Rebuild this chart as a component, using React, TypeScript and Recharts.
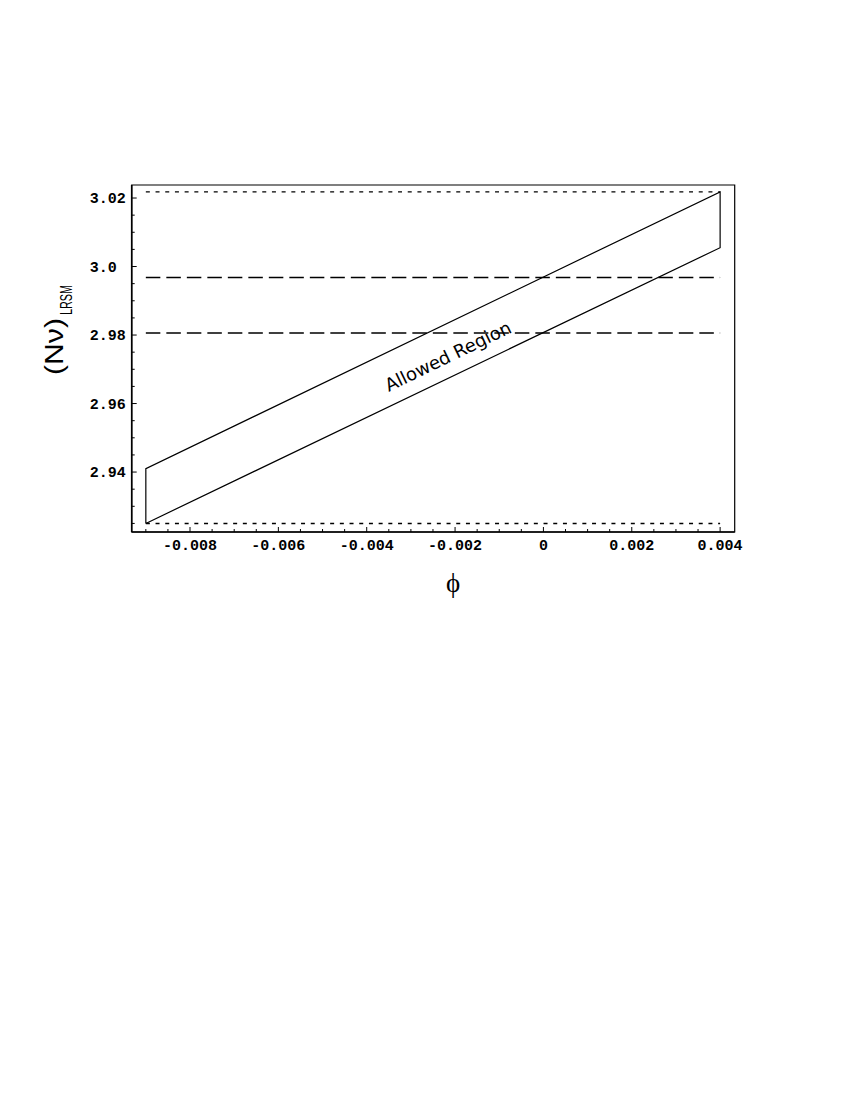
import React from "react";
import {
  ComposedChart,
  Line,
  XAxis,
  YAxis,
  ReferenceLine,
  ReferenceArea,
  ReferenceDot,
} from "recharts";

// ---- data ----
const phiRange = [-0.009, 0.004];
const upperEdge = [2.941, 3.0218];
const lowerEdge = [2.925, 3.0055];
const dashedLevels = [2.9806, 2.9968];
const dottedLevels = [2.925, 3.0218];

const xDomain = [-0.00932, 0.00433];
const yDomain = [2.9225, 3.0238];

const xMajorTicks = [-0.008, -0.006, -0.004, -0.002, 0, 0.002, 0.004];
const xTickLabels = ["-0.008", "-0.006", "-0.004", "-0.002", "0", "0.002", "0.004"];
const yMajorTicks = [2.94, 2.96, 2.98, 3.0, 3.02];
const yTickLabels = ["2.94", "2.96", "2.98", "3.0", "3.02"];

const labelPoint = { x: -0.00216, y: 2.9738 };
const regionLabel = "Allowed Region";

const xMinorTicks: number[] = [];
for (let k = 0; k <= 26; k++) xMinorTicks.push(Math.round((-0.009 + k * 0.0005) * 1e6) / 1e6);
const yMinorTicks: number[] = [];
for (let k = 0; k <= 19; k++) yMinorTicks.push(Math.round((2.925 + k * 0.005) * 1e5) / 1e5);

const regionData = [
  { x: phiRange[0], y: lowerEdge[0] },
  { x: phiRange[0], y: upperEdge[0] },
  { x: phiRange[1], y: upperEdge[1] },
  { x: phiRange[1], y: lowerEdge[1] },
  { x: phiRange[0], y: lowerEdge[0] },
];

const tickFont = {
  fontFamily: "'Liberation Mono', 'DejaVu Sans Mono', monospace",
  fontWeight: 700,
  fontSize: 15,
  fill: "#000",
};

const XTick = (props: any) => {
  const { x, y, payload } = props;
  const v = payload.value;
  const idx = xMajorTicks.findIndex((m) => Math.abs(m - v) < 1e-9);
  const major = idx >= 0;
  return (
    <g>
      <line x1={x} x2={x} y1={y} y2={y - (major ? 5 : 3)} stroke="#000" strokeWidth={1} />
      {major && (
        <text x={x} y={y + 17.5} textAnchor="middle" {...tickFont}>
          {xTickLabels[idx]}
        </text>
      )}
    </g>
  );
};

const YTick = (props: any) => {
  const { x, y, payload } = props;
  const v = payload.value;
  const idx = yMajorTicks.findIndex((m) => Math.abs(m - v) < 1e-9);
  const major = idx >= 0;
  return (
    <g>
      <line x1={x} x2={x + (major ? 5 : 3)} y1={y} y2={y} stroke="#000" strokeWidth={1} />
      {major && (
        <text x={x - 42} y={y} dy="0.35em" textAnchor="start" {...tickFont}>
          {yTickLabels[idx]}
        </text>
      )}
    </g>
  );
};

const YLabel = (props: any) => {
  const vb = props.viewBox || { x: 0, y: 0, width: 0, height: 0 };
  const cy = vb.y + vb.height / 2;
  const mx = vb.x + 55;
  const my = cy + 16.5;
  const sx = vb.x + 64;
  const sy = cy - 43.5;
  return (
    <g>
      <text
        x={mx}
        y={my}
        transform={`rotate(-90, ${mx}, ${my})`}
        fontFamily="'Liberation Sans', Arial, sans-serif"
        fontSize={26}
        textLength={57}
        lengthAdjust="spacingAndGlyphs"
        fill="#000"
      >
        (Nν)
      </text>
      <text
        x={sx}
        y={sy}
        transform={`rotate(-90, ${sx}, ${sy})`}
        fontFamily="'Liberation Sans', Arial, sans-serif"
        fontSize={16}
        textLength={30}
        lengthAdjust="spacingAndGlyphs"
        fill="#000"
      >
        LRSM
      </text>
    </g>
  );
};

const XLabel = (props: any) => {
  const vb = props.viewBox || { x: 0, y: 0, width: 0, height: 0 };
  const cx = vb.x + vb.width / 2 + 20;
  return (
    <text
      x={cx}
      y={vb.y + 60}
      textAnchor="middle"
      fontFamily="'Liberation Serif', 'Times New Roman', serif"
      fontSize={27}
      fill="#000"
    >
      ϕ
    </text>
  );
};

const RegionText = (props: any) => {
  const { cx, cy } = props;
  if (cx == null || cy == null) return null;
  return (
    <text
      x={cx}
      y={cy}
      dy="0.35em"
      textAnchor="middle"
      transform={`rotate(-25.8, ${cx}, ${cy})`}
      fontFamily="'DejaVu Sans', sans-serif"
      fontSize={18}
      fill="#000"
    >
      {regionLabel}
    </text>
  );
};

export default function App() {
  return (
    <div style={{ width: 834, height: 650 }}>
      <ComposedChart
        width={834}
        height={650}
        margin={{ top: 177, right: 107.3, left: 0, bottom: 86 }}
      >
        <XAxis
          type="number"
          dataKey="x"
          domain={xDomain}
          allowDataOverflow
          ticks={xMinorTicks}
          interval={0}
          tick={<XTick />}
          tickLine={false}
          tickSize={0}
          tickMargin={0}
          axisLine={{ stroke: "#000", strokeWidth: 1.6 }}
          height={40}
          label={<XLabel />}
        />
        <YAxis
          type="number"
          dataKey="y"
          domain={yDomain}
          allowDataOverflow
          ticks={yMinorTicks}
          interval={0}
          tick={<YTick />}
          tickLine={false}
          tickSize={0}
          tickMargin={0}
          axisLine={{ stroke: "#000", strokeWidth: 1.6 }}
          width={123.7}
          label={<YLabel />}
        />
        <ReferenceArea
          x1={xDomain[0]}
          x2={xDomain[1]}
          y1={yDomain[0]}
          y2={yDomain[1]}
          fill="none"
          stroke="#000"
          strokeWidth={1.2}
          ifOverflow="visible"
        />
        {dottedLevels.map((v, i) => (
          <ReferenceLine
            key={"dot" + i}
            segment={[
              { x: phiRange[0], y: v },
              { x: phiRange[1], y: v },
            ]}
            stroke="#000"
            strokeWidth={1.4}
            strokeDasharray="4 5.7"
          />
        ))}
        {dashedLevels.map((v, i) => (
          <ReferenceLine
            key={"dash" + i}
            segment={[
              { x: phiRange[0], y: v },
              { x: phiRange[1], y: v },
            ]}
            stroke="#000"
            strokeWidth={1.3}
            strokeDasharray="14.5 6"
          />
        ))}
        <Line
          data={regionData}
          dataKey="y"
          type="linear"
          stroke="#000"
          strokeWidth={1.2}
          dot={false}
          activeDot={false}
          isAnimationActive={false}
        />
        <ReferenceDot
          x={labelPoint.x}
          y={labelPoint.y}
          r={0}
          shape={<RegionText />}
        />
      </ComposedChart>
    </div>
  );
}
